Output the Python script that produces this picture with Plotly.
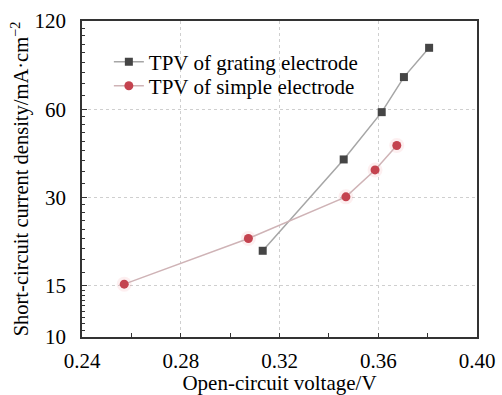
import numpy as np
import plotly.graph_objects as go

# Open-circuit voltage (V) and short-circuit current density (mA/cm^2)
grating_voc = [0.3132, 0.3460, 0.3614, 0.3704, 0.3806]
grating_jsc = [19.7, 40.4, 58.6, 77.2, 97.2]

simple_voc = [0.2571, 0.3074, 0.3469, 0.3587, 0.3675]
simple_jsc = [15.15, 21.7, 30.1, 37.2, 45.1]

series_names = ["TPV of grating electrode", "TPV of simple electrode"]

y_major = [10, 15, 30, 60, 120]
x_major = [0.24, 0.28, 0.32, 0.36, 0.40]

# minor ticks: 8 evenly spaced values between each pair of major ticks
y_minor = []
for lo, hi in zip(y_major[:-1], y_major[1:]):
    y_minor.extend(np.linspace(lo, hi, 10)[1:-1].tolist())

FONT = "Times New Roman, Liberation Serif, serif"
FS = 21
AXIS_COLOR = "#333333"
GRID_COLOR = "#cfcfcf"

fig = go.Figure()

# soft halo under the red markers
fig.add_trace(go.Scatter(
    x=simple_voc, y=simple_jsc, mode="markers",
    marker=dict(symbol="circle", size=15, color="rgba(240,120,130,0.12)", line=dict(width=0)),
    showlegend=False, hoverinfo="skip",
))

fig.add_trace(go.Scatter(
    x=grating_voc, y=grating_jsc, name=series_names[0],
    mode="lines+markers", legend="legend",
    line=dict(color="#a6a6a6", width=1.5),
    marker=dict(symbol="square", size=8, color="#454545"),
))
fig.add_trace(go.Scatter(
    x=simple_voc, y=simple_jsc, name=series_names[1],
    mode="lines+markers", legend="legend2",
    line=dict(color="#cfb3b6", width=1.5),
    marker=dict(symbol="circle", size=9, color="#c4434f"),
))

legend_style = dict(
    xanchor="left", yanchor="middle",
    bgcolor="rgba(0,0,0,0)", borderwidth=0,
    font=dict(family=FONT, size=FS, color="black"),
    itemwidth=30,
)

fig.update_layout(
    width=502, height=395,
    margin=dict(l=82, r=25, t=21, b=58, autoexpand=False),
    paper_bgcolor="white", plot_bgcolor="white",
    font=dict(family=FONT, size=FS, color="black"),
    showlegend=True,
    legend=dict(x=0.068, y=0.870, **legend_style),
    legend2=dict(x=0.068, y=0.794, **legend_style),
)

fig.update_xaxes(
    range=[0.24, 0.40], automargin=False,
    tickvals=x_major, ticktext=[f"{v:.2f}" for v in x_major],
    ticks="inside", ticklen=4, tickwidth=1.2, tickcolor=AXIS_COLOR,
    minor=dict(dtick=0.02, tick0=0.24, ticks="inside", ticklen=4, tickcolor=AXIS_COLOR, showgrid=False),
    showline=True, linecolor=AXIS_COLOR, linewidth=1.5, mirror=True,
    showgrid=True, gridcolor=GRID_COLOR, griddash="dot", gridwidth=1,
    zeroline=False,
    tickfont=dict(family=FONT, size=FS, color="black"),
    ticklabelstandoff=4,
    title=dict(text="Open-circuit voltage/V", font=dict(family=FONT, size=FS), standoff=8),
)

fig.update_yaxes(
    type="log", automargin=False,
    range=[np.log10(10), np.log10(120)],
    tickvals=y_major, ticktext=[str(v) for v in y_major],
    ticks="inside", ticklen=5, tickwidth=1.2, tickcolor=AXIS_COLOR,
    minor=dict(tickvals=y_minor, ticks="inside", ticklen=3, tickcolor=AXIS_COLOR, showgrid=False),
    showline=True, linecolor=AXIS_COLOR, linewidth=1.5, mirror=True,
    showgrid=True, gridcolor=GRID_COLOR, griddash="dot", gridwidth=1,
    zeroline=False,
    tickfont=dict(family=FONT, size=FS, color="black"),
    ticklabelstandoff=10,
    title=dict(text="Short-circuit current density/mA·cm<sup>−2</sup>",
               font=dict(family=FONT, size=20.5), standoff=0),
)

fig.write_html("out.html")
